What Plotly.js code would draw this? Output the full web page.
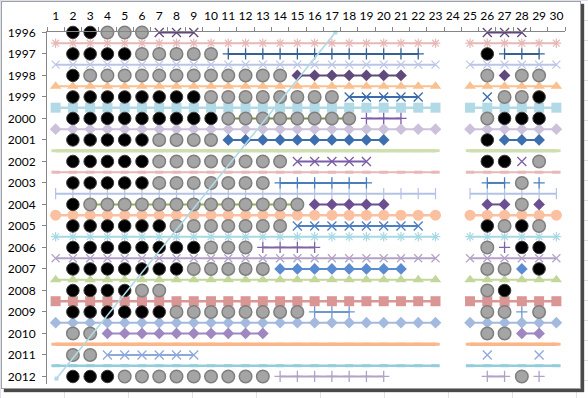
<!DOCTYPE html>
<html><head><meta charset="utf-8">
<script src="https://cdn.plot.ly/plotly-3.0.1.min.js"></script>
<style>
html,body{margin:0;padding:0;width:588px;height:398px;overflow:hidden;background:#fff;}
#bg{position:absolute;left:0;top:0;width:588px;height:398px;
 background-image:linear-gradient(#dde2ea 1px,transparent 1px),linear-gradient(90deg,#dde2ea 1px,transparent 1px);
 background-size:64px 20px;}
#frame{position:absolute;left:1px;top:1px;width:578px;height:386px;background:#fff;border:1px solid #a0a0a0;box-shadow:3px 3px 1px #4a4a4a;}
#chart{position:absolute;left:0;top:0;width:588px;height:398px;}
</style></head>
<body><div id="bg"></div><div id="frame"></div><div id="chart"></div>
<script>
// ---------- data ----------
const years = [1996,1997,1998,1999,2000,2001,2002,2003,2004,2005,2006,2007,2008,2009,2010,2011,2012];
const columns = [1,2,3,4,5,6,7,8,9,10,11,12,13,14,15,16,17,18,19,20,21,22,23,24,25,26,27,28,29,30];

const blackDots = [
  [2,3],
  [2,3,4,5,26],
  [2],
  [2,3,4,5,6,7,8,9,29],
  [2,3,4,5,6,7,8,9,10,27,28,29],
  [2,3,4,5,6,26],
  [2,3,4,5,6,26,27],
  [2,3,4,5,6],
  [2],
  [2,3,4,5,6,7,26,28],
  [2,3,4,5,6,7,8,9,28,29],
  [2,3,4,5,6,7,8,29],
  [2,3,4,5,27],
  [2,3,4,5,6,7],
  [],
  [],
  [2,3,4]
];
const grayDots = [
  [4,5,6],
  [6,7,8,9,10],
  [3,4,5,6,7,8,9,10,11,12,13,14,26,28,29],
  [10,11,12,13,14,15,16,17,27,28],
  [11,12,13,14,15,16,17,18,26],
  [7,8,9,10],
  [7,8,9,10,11,12,13,14,29],
  [7,8,9,10,11,12,13,28],
  [3,4,5,6,7,8,9,10,11,12,13,14,15,28],
  [8,9,10,11,12,13,14,27,29],
  [10,11,12,26],
  [9,10,11,12,13,26,27],
  [6,7,26],
  [8,9,10,11,12,13,14,15,26,27,29],
  [2,3,26,27],
  [2,3],
  [5,6,7,8,9,10,11,12,13,28]
];

const sepRows = [1996.5,1997.5,1998.5,1999.5,2000.5,2001.5,2002.5,2003.5,2004.5,2005.5,2006.5,2007.5,2008.5,2009.5,2010.5,2011.5];
const sepColumns = [1,2,3,4,5,6,7,8,9,10,11,12,13,14,15,16,17,18,19,20,21,22,23,null,25,26,27,28,29,30];

const purpleXSegs = [[1996,[7,8,9]],[1996,[26,27,28]],[2002,[15,16,17,18,19]],[2002,[28]]];
const blueBarSegs = [[1997,[11,12,13,14,15,16,17,18,19,20,21,22]],[1997,[27,28,29]],[2003,[14,15,16,17,18,19]],[2003,[26,27]],[2003,[29]],[2009,[16,17,18]],[2009,[28]]];
const purpleDiamondSegs = [[1998,[15,16,17,18,19,20,21]],[1998,[27]],[2004,[16,17,18,19,20]],[2004,[26,27]],[2004,[29]],[2010,[4,5,6,7,8,9,10,11,12,13]],[2010,[28,29]]];
const blueXSegs = [[1999,[18,19,20,21,22]],[1999,[26]],[2005,[15,16,17,18,19,20,21,22]],[2011,[4,5,6,7,8,9]],[2011,[26]],[2011,[29]]];
const purpleBarSegs = [[2000,[19,20,21]],[2006,[13,14,15,16]],[2006,[27]],[2012,[14,15,16,17,18,19,20]],[2012,[26,27]],[2012,[29]]];
const blueDiamondSegs = [[2001,[11,12,13,14,15,16,17,18,19,20]],[2001,[27,28,29]],[2007,[14,15,16,17,18,19,20,21]],[2007,[28]]];
const greenLineSegs = [[2000,[11,12,13,14,15,16,17,18]],[2004,[3,4,5,6,7,8,9,10,11,12,13,14,15]]];

const diagX = [17.2, 1.05];
const diagY = [1996, 2012.1];

// ---------- styles ----------
const sepSymbols = ['asterisk-open','x-thin-open','triangle-up','square','diamond','line-ew-open','line-ew-open','line-ns-open','circle','asterisk-open','x-thin-open','triangle-up','square','diamond','line-ew-open','line-ew-open'];
const sepColors = ['#e6b9b8','#bcc5e6','#fac08f','#b2dae6','#ccc1da','#cfdfb2','#e6b9b8','#b4c2e4','#fac0a0','#a8d8e4','#b3a2c7','#c3d69b','#d99694','#a3b9de','#fbb68a','#93cddd'];
const sepLineW = [2,2,2,2.5,2,3.5,2,2,2.5,2,2,2,2.5,2,3.5,2.5];
const sepSizes = {'asterisk-open':8,'x-thin-open':8,'triangle-up':10,'square':10,'diamond':9,'line-ew-open':6,'line-ns-open':8,'circle':11};

const yearColor = {
  purpleX:{1996:'#604a7b',2002:'#7a5fa8'},
  blueBar:{1997:'#376092',2003:'#4a7ebb',2009:'#6f97d0'},
  purpleDiamond:{1998:'#604a7b',2004:'#6b4f91',2010:'#9f87c1'},
  blueX:{1999:'#3d6aa8',2005:'#4f7fc0',2011:'#8ea8dc'},
  purpleBar:{2000:'#7b5ca8',2006:'#8064a2',2012:'#b3a2c7'},
  blueDiamond:{2001:'#3d6fae',2007:'#5b8bd0'},
  green:{2000:'#77933c',2004:'#8db33f'}
};

const traces = [];
sepRows.forEach((r,i)=>{
  const sym = sepSymbols[i];
  const open = sym.indexOf('open')>=0;
  traces.push({
    x: sepColumns, y: sepColumns.map(c=> c===null?null:r),
    type:'scatter', mode:'lines+markers', connectgaps:false, cliponaxis:false, hoverinfo:'skip',
    line:{color:sepColors[i], width:sepLineW[i]},
    marker:{symbol:sym, size:sepSizes[sym], color:sepColors[i], line:{color:sepColors[i], width: open?(sym==='line-ew-open'?3:1.2):0}}
  });
});
greenLineSegs.forEach(([yr,cols])=>{
  traces.push({x:cols, y:cols.map(()=>yr), type:'scatter', mode:'lines', cliponaxis:false, hoverinfo:'skip',
    line:{color:yearColor.green[yr], width:2}});
});
const bx=[],by=[],gx=[],gy=[];
years.forEach((yr,i)=>{
  blackDots[i].forEach(c=>{bx.push(c);by.push(yr);});
  grayDots[i].forEach(c=>{gx.push(c);gy.push(yr);});
});
traces.push({x:gx,y:gy,type:'scatter',mode:'markers',cliponaxis:false,hoverinfo:'skip',
  marker:{symbol:'circle',size:12.5,color:'#a5a5a5',line:{color:'#7f7f7f',width:1.5}}});
traces.push({x:bx,y:by,type:'scatter',mode:'markers',cliponaxis:false,hoverinfo:'skip',
  marker:{symbol:'circle',size:12.5,color:'#000000',line:{color:'#3a3a3a',width:1}}});
function addSegs(segs, key, symbol, size, open){
  segs.forEach(([yr,cols])=>{
    const col = yearColor[key][yr];
    traces.push({x:cols, y:cols.map(()=>yr), type:'scatter', mode:'lines+markers', cliponaxis:false, hoverinfo:'skip',
      line:{color:col, width:2},
      marker:{symbol:symbol, size:size, color:col, line:{color:col, width: open?1.3:0}}});
  });
}
addSegs(purpleXSegs,'purpleX','x-thin-open',9,true);
addSegs(blueBarSegs,'blueBar','cross-thin-open',8,true);
addSegs(purpleDiamondSegs,'purpleDiamond','diamond',9,false);
addSegs(blueXSegs,'blueX','x-thin-open',9,true);
addSegs(purpleBarSegs,'purpleBar','cross-thin-open',8,true);
addSegs(blueDiamondSegs,'blueDiamond','diamond',9,false);
traces.push({x:diagX,y:diagY,type:'scatter',mode:'lines+markers',cliponaxis:false,hoverinfo:'skip',
  line:{color:'#b0d9e6',width:1.6}, marker:{symbol:'square',size:4,color:'#b0d9e6'}});
traces.push({x:[null],y:[null],xaxis:'x2',type:'scatter',mode:'markers',showlegend:false,hoverinfo:'skip'});

const font = {family:'Lato, "Open Sans", sans-serif', size:12, color:'#000'};
const boundaries = [];
for (let i=0;i<=30;i++) boundaries.push(i+0.5);

const layout = {
  width:588, height:398,
  paper_bgcolor:'rgba(0,0,0,0)', plot_bgcolor:'rgba(0,0,0,0)',
  margin:{l:47,r:23,t:32,b:14},
  showlegend:false,
  font:font,
  xaxis:{side:'top', range:[0.5,30.5], tickmode:'array', tickvals:columns, ticktext:columns.map(String),
    ticks:'', ticklabelstandoff:6, showgrid:false, zeroline:false, showline:true, linecolor:'#868686', linewidth:1, tickfont:font, fixedrange:true},
  xaxis2:{overlaying:'x', side:'top', range:[0.5,30.5], tickmode:'array', tickvals:boundaries, ticktext:boundaries.map(()=>''),
    ticks:'outside', ticklen:4, tickcolor:'#868686', showgrid:false, zeroline:false, showline:false, showticklabels:false},
  yaxis:{range:[2012.35,1995.98], tickmode:'array', tickvals:years, ticktext:years.map(String),
    ticks:'outside', ticklen:4, tickcolor:'#868686', ticklabelstandoff:4, showgrid:false, zeroline:false, showline:true, linecolor:'#868686', linewidth:1, tickfont:font, fixedrange:true}
};
Plotly.newPlot('chart', traces, layout, {staticPlot:true, displayModeBar:false});
</script></body></html>
